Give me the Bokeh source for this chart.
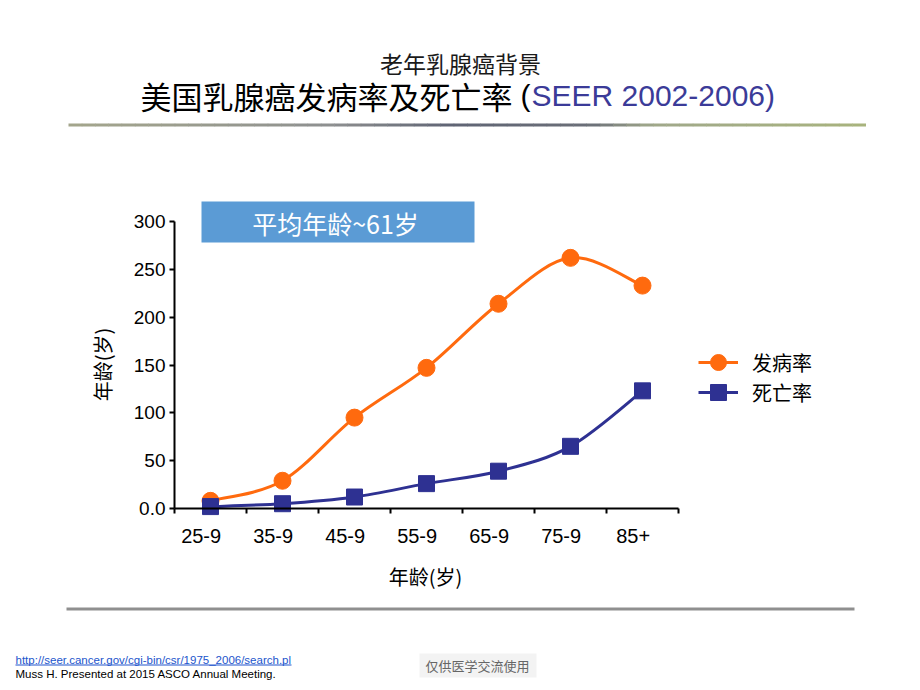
import numpy as np
from bokeh.plotting import figure
from bokeh.models import (Range1d, FixedTicker, Label, BoxAnnotation, Legend,
                          LegendItem, LinearAxis)
from bokeh.embed import file_html
from bokeh.resources import INLINE

# ---------------- data ----------------
ages = ["25-9", "35-9", "45-9", "55-9", "65-9", "75-9", "85+"]
incidence = [8, 29, 95, 147, 214, 262, 233]   # 发病率
mortality = [2, 5, 12, 26, 39, 65, 123]       # 死亡率
y_ticks = [0, 50, 100, 150, 200, 250, 300]
y_tick_labels = ["0.0", "50", "100", "150", "200", "250", "300"]

ORANGE = "#FF6A0E"
NAVY = "#2E3192"
CJK = "Noto Sans CJK SC"
LAT = "Liberation Sans"

W, H = 920, 690
# pixel layout of the plotting area inside the page
AX_LEFT, AX_RIGHT, AX_TOP, AX_ZERO = 174, 678, 221, 508
n_cat = len(ages)
y_max = y_ticks[-1]
px_x = (AX_RIGHT - AX_LEFT) / n_cat
px_y = (AX_ZERO - AX_TOP) / y_max

xs = [i + 0.5 for i in range(n_cat)]

p = figure(width=W, height=H, output_backend="svg", toolbar_location=None,
           x_range=Range1d(-AX_LEFT / px_x, n_cat + (W - AX_RIGHT) / px_x),
           y_range=Range1d(-(H - AX_ZERO) / px_y, y_max + AX_TOP / px_y),
           min_border=0, x_axis_location=None, y_axis_location=None)
p.outline_line_color = None
p.background_fill_color = "white"
p.border_fill_color = "white"
p.xgrid.visible = False
p.ygrid.visible = False

# ---------------- axes ----------------
yax = LinearAxis(ticker=FixedTicker(ticks=y_ticks, minor_ticks=[]), bounds=(0, y_max),
                 fixed_location=0,
                 major_label_overrides={t: l for t, l in zip(y_ticks, y_tick_labels)})
yax.axis_line_width = 2
yax.axis_line_color = "black"
yax.major_tick_line_width = 2
yax.major_tick_out = 5
yax.major_tick_in = 0
yax.minor_tick_line_color = None
yax.major_label_standoff = 4
yax.major_label_text_font = LAT
yax.major_label_text_font_size = "19px"
yax.major_label_text_color = "black"
p.add_layout(yax, "left")

label_pos = [round(i + 0.37, 2) for i in range(n_cat)]
xax = LinearAxis(ticker=FixedTicker(ticks=label_pos, minor_ticks=list(range(n_cat + 1))),
                 fixed_location=0, bounds=(0, n_cat),
                 major_label_overrides={t: l for t, l in zip(label_pos, ages)})
xax.axis_line_width = 2
xax.axis_line_color = "black"
xax.major_tick_line_color = None
xax.major_tick_out = 0
xax.major_tick_in = 0
xax.minor_tick_line_width = 2
xax.minor_tick_line_color = "black"
xax.minor_tick_out = 5
xax.minor_tick_in = 0
xax.major_label_standoff = 15
xax.major_label_text_font = LAT
xax.major_label_text_font_size = "20px"
xax.major_label_text_color = "black"
p.add_layout(xax, "below")


# ---------------- smooth curves (Catmull-Rom -> Bezier) ----------------
def bezier_parts(x, y, t=1.0 / 6.0):
    x = np.asarray(x, float)
    y = np.asarray(y, float)
    n = len(x)
    xp = np.concatenate([[x[0]], x, [x[-1]]])
    yp = np.concatenate([[y[0]], y, [y[-1]]])
    return dict(
        x0=x[:-1], y0=y[:-1], x1=x[1:], y1=y[1:],
        cx0=x[:-1] + (xp[2:n + 1] - xp[0:n - 1]) * t,
        cy0=y[:-1] + (yp[2:n + 1] - yp[0:n - 1]) * t,
        cx1=x[1:] - (xp[3:n + 2] - xp[1:n]) * t,
        cy1=y[1:] - (yp[3:n + 2] - yp[1:n]) * t,
    )


p.bezier(line_color=ORANGE, line_width=3, **bezier_parts(xs, incidence))
p.bezier(line_color=NAVY, line_width=3, **bezier_parts(xs, mortality))

l1 = p.line(xs, incidence, line_color=ORANGE, line_width=3, visible=False)
l2 = p.line(xs, mortality, line_color=NAVY, line_width=3, visible=False)
s1 = p.scatter(xs, incidence, marker="circle", size=17, fill_color=ORANGE, line_color=ORANGE)
s2 = p.scatter(xs, mortality, marker="square", size=16, fill_color=NAVY, line_color=NAVY)

# one legend per entry so that large legend markers keep the reference row pitch
for lab, rend, centre_y in [("发病率", [l1, s1], 362), ("死亡率", [l2, s2], 392)]:
    p.add_layout(Legend(items=[LegendItem(label=lab, renderers=rend)],
                        location=(698, H - (centre_y + 20)), orientation="vertical",
                        glyph_width=40, glyph_height=40, label_standoff=14, spacing=0,
                        padding=0, margin=0, border_line_color=None,
                        background_fill_alpha=0, label_text_font=CJK,
                        label_text_font_size="20px", label_text_color="black",
                        label_height=20, click_policy="none"))


# ---------------- page texts & decorations ----------------
def canvas_label(x, y, text, size, font=CJK, color="black", align="center", angle=0.0):
    p.add_layout(Label(x=x, y=y, x_units="canvas", y_units="canvas", text=text,
                       text_font=font, text_font_size=size, text_color=color,
                       text_align=align, text_baseline="middle", angle=angle))


def canvas_box(left, right, top, bottom, color):
    p.add_layout(BoxAnnotation(left=left, right=right, top=top, bottom=bottom,
                               left_units="canvas", right_units="canvas",
                               top_units="canvas", bottom_units="canvas",
                               fill_color=color, fill_alpha=1.0, line_color=None))


canvas_label(460, 62, "老年乳腺癌背景", "23px", color="#1a1a1a")
canvas_label(140, 95, "美国乳腺癌发病率及死亡率", "31px", align="left")
canvas_label(520, 95, "(", "30px", font=LAT, align="left")
canvas_label(531, 95, "SEER 2002-2006)", "30px", font=LAT, color="#3B3B98", align="left")

# gradient separator under title
stops = [(68, (164, 166, 140)), (330, (142, 144, 144)), (450, (95, 100, 116)),
         (590, (107, 111, 120)), (650, (160, 168, 138)), (865, (168, 179, 125))]
nseg = 60
edges = np.linspace(68, 865, nseg + 1)
for a, b in zip(edges[:-1], edges[1:]):
    mid = 0.5 * (a + b)
    c = stops[-1][1]
    for (xa, ca), (xb, cb) in zip(stops[:-1], stops[1:]):
        if xa <= mid <= xb:
            f = (mid - xa) / (xb - xa)
            c = tuple(int(round(ca[k] + f * (cb[k] - ca[k]))) for k in range(3))
            break
    canvas_box(float(a), float(b) + 0.5, 123, 126, "#%02x%02x%02x" % c)

# bottom separator
canvas_box(66, 854, 607, 610, "#8f8f8f")

# blue info box
canvas_box(201, 474, 201, 242, "#5B9BD5")
canvas_label(335, 222, "平均年龄~61岁", "25px", color="white")

# axis titles
canvas_label(102, 364, "年龄(岁)", "20px", angle=np.pi / 2)
canvas_label(425, 576, "年龄(岁)", "20px")

# footer
canvas_label(15, 659, "http://seer.cancer.gov/cgi-bin/csr/1975_2006/search.pl", "11.5px",
             font=LAT, color="#2255CC", align="left")
canvas_box(15, 291, 664, 665, "#2255CC")
canvas_label(15, 673, "Muss H. Presented at 2015 ASCO Annual Meeting.", "11.5px",
             font=LAT, color="black", align="left")
canvas_box(419, 536, 653, 677, "#f3f3f3")
canvas_label(477, 665, "仅供医学交流使用", "13px", color="#666666")

open("out.html", "w").write(file_html(p, INLINE))
